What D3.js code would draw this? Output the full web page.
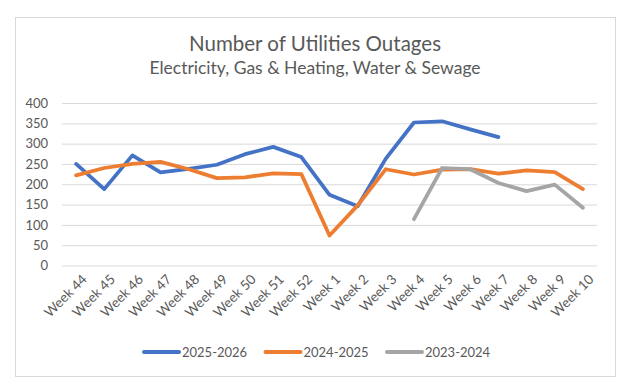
<!DOCTYPE html>
<html>
<head>
<meta charset="utf-8">
<script src="https://cdn.jsdelivr.net/npm/d3@7"></script>
<style>
  body { margin: 0; background: #fff; }
  text { font-family: Lato, "Noto Sans", sans-serif; fill: #595959; }
</style>
</head>
<body>
<svg id="chart" width="632" height="392"></svg>
<script>
// Week labels along the x axis
const weeks = ['Week 44', 'Week 45', 'Week 46', 'Week 47', 'Week 48', 'Week 49', 'Week 50',
  'Week 51', 'Week 52', 'Week 1', 'Week 2', 'Week 3', 'Week 4', 'Week 5', 'Week 6',
  'Week 7', 'Week 8', 'Week 9', 'Week 10'];

// Outage counts per season (null = no value for that week)
const season2025 = [250, 188, 271, 229, 238, 248, 274, 292, 267, 174, 146, 263, 352, 355, 335, 316,
  null, null, null];
const season2024 = [222, 240, 250, 255, 237, 215, 217, 227, 225, 74, 148, 237, 224, 236, 237, 226,
  234, 230, 188];
const season2023 = [null, null, null, null, null, null, null, null, null, null, null, null,
  114, 240, 237, 203, 183, 199, 142];

const seriesNames = ['2025-2026', '2024-2025', '2023-2024'];
const yTicks = [0, 50, 100, 150, 200, 250, 300, 350, 400];

const series = [season2025, season2024, season2023].map((values, i) => ({
  name: seriesNames[i],
  values: values
}));

const svg = d3.select('#chart');

// outer chart border
svg.append('rect')
    .attr('x', 15.5)
    .attr('y', 17.5)
    .attr('width', 600)
    .attr('height', 359)
    .attr('fill', '#fff')
    .attr('stroke', '#d9d9d9');

// titles
svg.append('text')
    .attr('x', 315)
    .attr('y', 51)
    .attr('text-anchor', 'middle')
    .style('font-size', '20.5px')
    .text('Number of Utilities Outages');
svg.append('text')
    .attr('x', 315)
    .attr('y', 74)
    .attr('text-anchor', 'middle')
    .style('font-size', '17.5px')
    .text('Electricity, Gas & Heating, Water & Sewage');

const xScale = d3.scaleBand()
    .domain(weeks)
    .range([62, 597]);

const yScale = d3.scaleLinear()
    .domain([0, 400])
    .range([265.5, 103]);

const colorScale = d3.scaleOrdinal()
    .domain(seriesNames)
    .range(['#4472c4', '#ed7d31', '#a5a5a5']);

// gridlines + y labels
const yAxisG = svg.append('g')
    .attr('transform', 'translate(62,0)')
    .call(d3.axisLeft(yScale)
      .tickValues(yTicks)
      .tickSize(-(597 - 62))
      .tickPadding(14));
yAxisG.select('.domain').remove();
yAxisG.selectAll('.tick line').attr('stroke', '#d9d9d9');
yAxisG.selectAll('.tick text')
    .style('font-size', '13px')
    .style('font-family', 'Lato, sans-serif')
    .attr('fill', '#595959');

// x labels, rotated
const xAxisG = svg.append('g')
    .attr('transform', 'translate(0,265.5)')
    .call(d3.axisBottom(xScale).tickSize(0).tickPadding(0));
xAxisG.select('.domain').remove();
xAxisG.selectAll('.tick text')
    .style('font-size', '13.5px')
    .style('font-family', 'Lato, sans-serif')
    .attr('fill', '#595959')
    .attr('text-anchor', 'end')
    .attr('dy', '0.7em')
    .attr('transform', 'translate(5,8) rotate(-45)');

// lines
const line = d3.line()
    .defined(d => d.value !== null)
    .x(d => xScale(d.week) + xScale.bandwidth() / 2)
    .y(d => yScale(d.value));

svg.selectAll('.series-line')
  .data(series)
  .enter().append('path')
    .attr('class', 'series-line')
    .attr('fill', 'none')
    .attr('stroke', d => colorScale(d.name))
    .attr('stroke-width', 3.75)
    .attr('stroke-linejoin', 'round')
    .attr('stroke-linecap', 'round')
    .attr('d', d => line(d.values.map((v, i) => ({ week: weeks[i], value: v }))));

// legend
const legend = svg.selectAll('.legend-item')
  .data(seriesNames)
  .enter().append('g')
    .attr('class', 'legend-item')
    .attr('transform', (d, i) => `translate(${144 + i * 121.5},352)`);
legend.append('line')
    .attr('x1', 0)
    .attr('x2', 35)
    .attr('stroke', d => colorScale(d))
    .attr('stroke-width', 4)
    .attr('stroke-linecap', 'round');
legend.append('text')
    .attr('x', 38)
    .attr('dy', '0.35em')
    .style('font-size', '13px')
    .text(d => d);
</script>
</body>
</html>
